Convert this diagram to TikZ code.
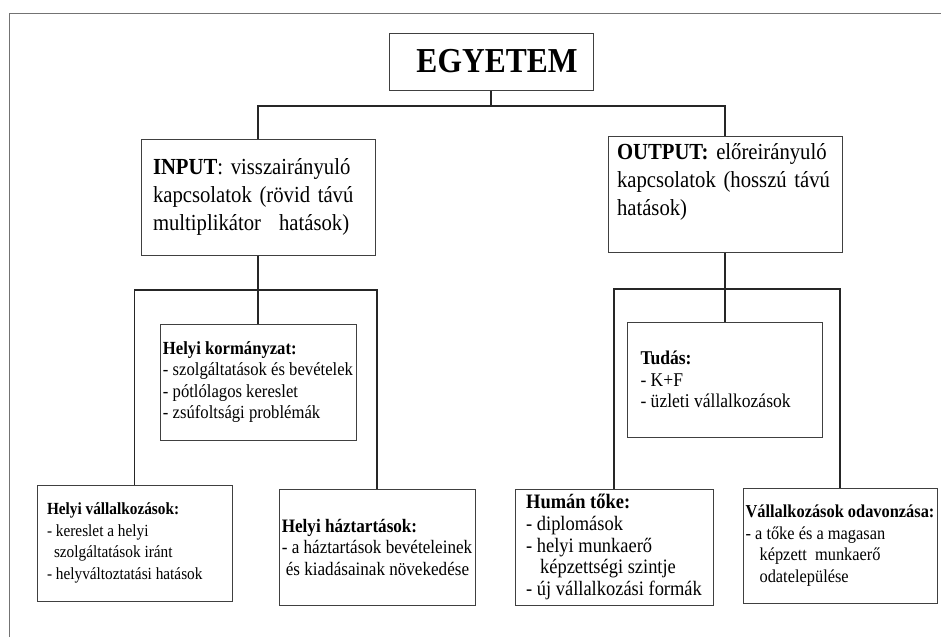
\documentclass[tikz,border=0pt]{standalone}
\usepackage{fontspec}
\setmainfont{Liberation Serif}[FakeStretch=0.9]
\definecolor{boxgray}{gray}{0.25}
\definecolor{framegray}{gray}{0.45}

\begin{document}
\begin{tikzpicture}[
  x=1pt, y=-1pt,
  box/.style={draw=boxgray, line width=1pt, inner sep=0pt, align=flush left},
  headbox/.style={box, align=left, font=\fontsize{23}{28}\selectfont, minimum width=234pt, minimum height=116pt},
  leaf/.style={box, font=\fontsize{18.5}{21.5}\selectfont, minimum width=196pt, minimum height=116pt},
  link/.style={line width=1.1pt, black!85}
]
\useasboundingbox (0,0) rectangle (941,637);
\draw[framegray, line width=1pt] (9,637) -- (9,13) -- (941,13);

\node[box, minimum width=204pt, minimum height=57pt, font=\fontsize{35}{38}\selectfont\bfseries] (egyetem) at (491,61.5) {\hspace*{12pt}EGYETEM};

\node[headbox, text width=210pt] (input) at (258,197) {\textbf{INPUT}: visszairányuló\\ kapcsolatok (rövid távú\\ multiplikátor\hspace{18pt}hatások)};
\node[headbox, text width=216pt] (output) at (725,194) {\textbf{OUTPUT:} előreirányuló\\ kapcsolatok (hosszú távú\\ hatások)\\ \mbox{}};

\node[leaf] (kormany) at (258,382) {\textbf{Helyi kormányzat:}\\ - szolgáltatások és bevételek\\ - pótlólagos kereslet\\ - zsúfoltsági problémák};
\node[leaf, font=\fontsize{19.5}{21.7}\selectfont, text width=169pt, minimum width=195pt, minimum height=115pt] (tudas) at (725,379.5) {\textbf{Tudás:}\\ - K+F\\ - üzleti vállalkozások};

\node[leaf, font=\fontsize{17}{21.5}\selectfont, text width=175pt, minimum width=195pt] (vallalk) at (134.5,543) {\textbf{Helyi vállalkozások:}\\ - kereslet a helyi\\ \hspace*{7pt}szolgáltatások iránt\\ - helyváltoztatási hatások};
\node[leaf, font=\fontsize{19}{21.5}\selectfont] (haztart) at (377,547) {\textbf{Helyi háztartások:}\\ - a háztartások bevételeinek\\ \hspace*{4pt}és kiadásainak növekedése};
\node[leaf, font=\fontsize{20.5}{21.7}\selectfont, minimum width=198pt] (human) at (614,547) {\textbf{Humán tőke:}\\ - diplomások\\ - helyi munkaerő\\ \hspace*{14pt}képzettségi szintje\\ - új vállalkozási formák};
\node[leaf, font=\fontsize{18.2}{21.5}\selectfont, minimum width=194pt, minimum height=115pt] (vonzas) at (840,545.5) {\textbf{Vállalkozások odavonzása:}\\ - a tőke és a magasan\\ \hspace*{14pt}képzett\ \ munkaerő\\ \hspace*{14pt}odatelepülése};

\coordinate (split) at (491,106);
\coordinate (lbar) at (258,290);
\coordinate (rbar) at (725,289);

\draw[link] (egyetem.south) -- (split);
\draw[link] (input.north) |- (split) -| (output.north);
\draw[link] (input.south) -- (kormany.north);
\draw[link] (output.south) -- (tudas.north);
\draw[link] (vallalk.north) |- (lbar) -| (haztart.north);
\draw[link] (human.north) |- (rbar) -| (vonzas.north);
\end{tikzpicture}
\end{document}
